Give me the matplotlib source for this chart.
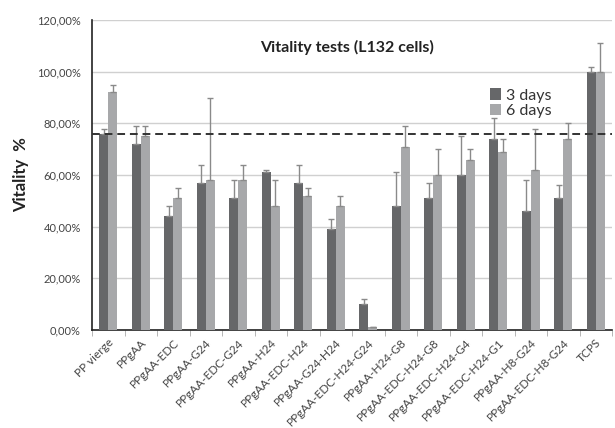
import matplotlib
matplotlib.use("Agg")
import matplotlib.pyplot as plt
import numpy as np

categories = ["PP vierge", "PPgAA", "PPgAA-EDC", "PPgAA-G24", "PPgAA-EDC-G24",
              "PPgAA-H24", "PPgAA-EDC-H24", "PPgAA-G24-H24", "PPgAA-EDC-H24-G24",
              "PPgAA-H24-G8", "PPgAA-EDC-H24-G8", "PPgAA-EDC-H24-G4",
              "PPgAA-EDC-H24-G1", "PPgAA-H8-G24", "PPgAA-EDC-H8-G24", "TCPS"]
days3 = [76, 72, 44, 57, 51, 61, 57, 39, 10, 48, 51, 60, 74, 46, 51, 100]
days3_err = [2, 7, 4, 7, 7, 1, 7, 4, 2, 13, 6, 15, 8, 12, 5, 2]
days6 = [92, 75, 51, 58, 58, 48, 52, 48, 1, 71, 60, 66, 69, 62, 74, 100]
days6_err = [3, 4, 4, 32, 6, 10, 3, 4, 0, 8, 10, 4, 5, 16, 6, 11]
threshold = 76
yticks = [0, 20, 40, 60, 80, 100, 120]
ytick_labels = ["0,00%", "20,00%", "40,00%", "60,00%", "80,00%", "100,00%", "120,00%"]

plt.rcParams['font.family'] = ['Lato', 'DejaVu Sans']

fig = plt.figure(figsize=(6.15, 4.28), dpi=100)
ax = fig.add_axes([92/615, 1-330/428, 520/615, 310/428])

x = np.arange(len(categories))
w = 0.27
dark = "#666769"
light = "#a7a8aa"
ecol = "#8a8a8a"
ekw = dict(ecolor=ecol, elinewidth=1, capsize=2.5, capthick=1, zorder=4)
ax.bar(x - w/2, days3, w, color=dark, label="3 days", zorder=3,
       yerr=[np.zeros(len(x)), days3_err], error_kw=ekw)
ax.bar(x + w/2, days6, w, color=light, label="6 days", zorder=3,
       yerr=[np.zeros(len(x)), days6_err], error_kw=ekw)

ax.axhline(threshold, color="#333333", linestyle=(0, (4, 2.5)), linewidth=1.4, zorder=5)

ax.set_xlim(-0.5, len(categories) - 0.5)
ax.set_ylim(0, 120)
ax.set_yticks(yticks)
ax.set_yticklabels(ytick_labels, fontsize=8, color="#444444")
ax.tick_params(axis='y', length=0, pad=8)
ax.set_xticks(x)
ax.set_xticklabels(categories, rotation=45, ha='right', rotation_mode='anchor', fontsize=8.5, color="#444444")
ax.tick_params(axis='x', length=0, pad=5)
ax.set_xticks(np.arange(-0.5, len(categories), 1), minor=True)
ax.tick_params(axis='x', which='minor', length=4, color="#aaaaaa")

ax.grid(axis='y', color="#d0d0d0", linewidth=1, zorder=0)
for s in ['top', 'right']:
    ax.spines[s].set_visible(False)
ax.spines['left'].set_color("#222222")
ax.spines['bottom'].set_color("#222222")
ax.spines['left'].set_linewidth(1.2)
ax.spines['bottom'].set_linewidth(1.2)

ax.set_ylabel("Vitality  %", fontsize=12, fontweight='bold', color="#222222", labelpad=6)
ax.text(-0.5 + 0.49 * len(categories), 109.5, "Vitality tests (L132 cells)",
        fontsize=11.5, fontweight='bold', color="#222222", ha='center', va='center')

ax.legend(loc='upper left', bbox_to_anchor=((494-92)/520 - 0.02, (330-82)/310), frameon=False,
          fontsize=11.5, handlelength=0.7, handleheight=0.7, handletextpad=0.3, labelspacing=0.1,
          borderaxespad=0, labelcolor="#333333")

fig.savefig("out.png", dpi=100)
